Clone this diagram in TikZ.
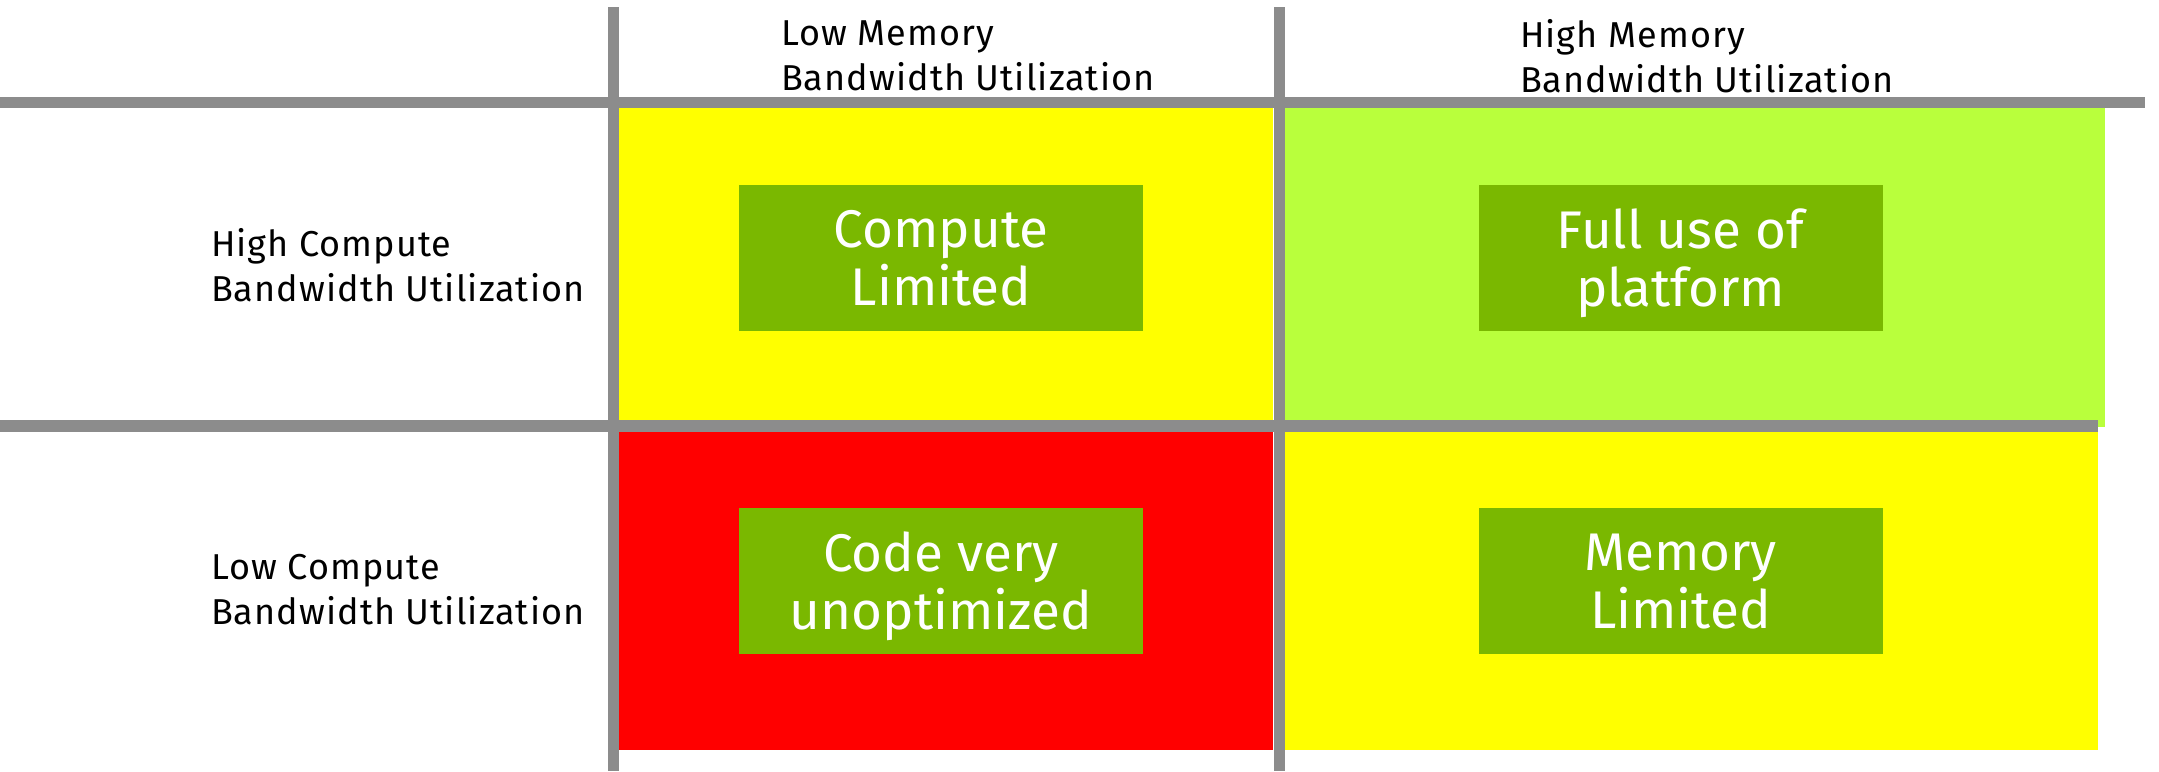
\documentclass[tikz,border=0pt]{standalone}
\usepackage{fontspec}
\setmainfont{Fira Sans}[LetterSpace=3]
\newfontfamily\boxfont{Fira Sans}
\definecolor{gridgray}{RGB}{140,140,140}
\definecolor{cellyellow}{RGB}{255,255,0}
\definecolor{celllime}{RGB}{185,255,60}
\definecolor{cellred}{RGB}{255,0,0}
\definecolor{taggreen}{RGB}{122,184,0}
\begin{document}
\begin{tikzpicture}[x=1pt,y=-1pt,
  cell/.style={draw=none,inner sep=0pt,outer sep=0pt,anchor=north west},
  tag/.style={fill=taggreen,text=white,inner sep=0pt,outer sep=0pt,
    minimum width=404pt,minimum height=146pt,align=center,text depth=0pt,
    font=\boxfont\fontsize{53}{58}\selectfont},
  axislabel/.style={inner sep=0pt,outer sep=0pt,align=left,text depth=0pt,
    font=\fontsize{36}{45}\selectfont},
  gridline/.style={fill=gridgray,draw=none}]
\useasboundingbox (0,0) rectangle (2159,771);
\fill[white] (0,0) rectangle (2159,771);

% quadrant backgrounds
\node[cell,fill=cellyellow,minimum width=655pt,minimum height=313pt] (tl) at (618,107) {};
\node[cell,fill=celllime,minimum width=821pt,minimum height=320pt] (tr) at (1284,107) {};
\node[cell,fill=cellred,minimum width=655pt,minimum height=318pt] (bl) at (618,432) {};
\node[cell,fill=cellyellow,minimum width=814pt,minimum height=318pt] (br) at (1284,432) {};

% grid lines
\fill[gridgray] (0,96.5) rectangle (2145,107.5);
\fill[gridgray] (0,420) rectangle (2098,432);
\fill[gridgray] (607.5,7) rectangle (618.5,771);
\fill[gridgray] (1273.5,7) rectangle (1284.5,771);

% quadrant verdicts
\node[tag] (cpu) at (941,257.5) {Compute\\Limited};
\node[tag] (full) at (1680.5,257.5) {Full use of\\platform};
\node[tag] (unopt) at (941,581) {Code very\\unoptimized};
\node[tag] (mem) at (1680.5,581) {Memory\\Limited};

% axis labels
\node[axislabel,anchor=west] (lowmem) at (781,56) {Low Memory\\Bandwidth Utilization};
\node[axislabel,anchor=west] (highmem) at (1520,56) {High Memory\\Bandwidth Utilization};
\node[axislabel,anchor=west] (highcomp) at (211,265) {High Compute\\Bandwidth Utilization};
\node[axislabel,anchor=west] (lowcomp) at (211,589) {Low Compute\\Bandwidth Utilization};
\end{tikzpicture}
\end{document}
